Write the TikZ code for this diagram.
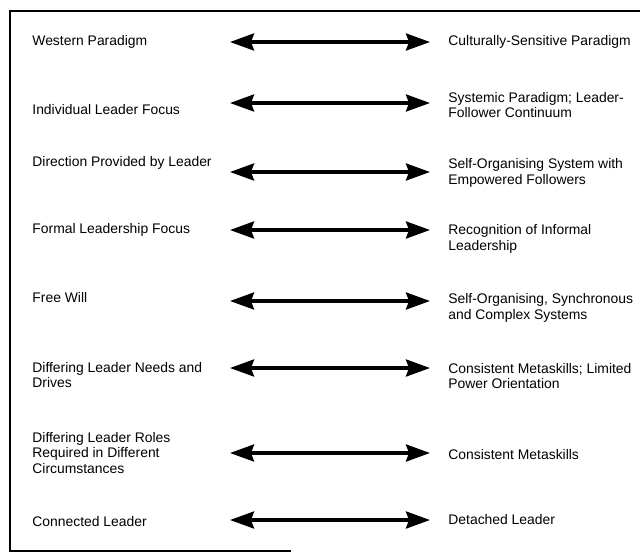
\documentclass[tikz,border=0pt]{standalone}
\usepackage{fontspec}
\setmainfont{Liberation Sans}
\usepackage{tikz}
\usetikzlibrary{arrows.meta}

\begin{document}
\begin{tikzpicture}[
	x=1pt, y=-1pt,
	thick,
	font=\fontsize{13.9}{15.5}\selectfont
]
\tikzset{
    itemnode/.style = {anchor=west, align=left, inner sep=0pt},
    pairlink/.style = {line width=3.2pt, {Stealth[length=24pt,width=17pt,inset=3pt]}-{Stealth[length=24pt,width=17pt,inset=3pt]}},
    frameline/.style = {line width=1.4pt, line cap=rect},
}
\useasboundingbox (0,0) rectangle (640,558);
% frame (open on the right)
\draw[frameline] (290,551) -- (10,551) -- (10,11) -- (640,11);

% left column
\node[itemnode] (west)   at (32,42)  {Western Paradigm};
\node[itemnode] (indiv)  at (32,110) {Individual Leader Focus};
\node[itemnode] (direct) at (32,163) {Direction Provided by Leader};
\node[itemnode] (formal) at (32,230) {Formal Leadership Focus};
\node[itemnode] (free)   at (32,298) {Free Will};
\node[itemnode] (needs)  at (32,375) {Differing Leader Needs and\\Drives};
\node[itemnode] (roles)  at (32,453) {Differing Leader Roles\\Required in Different\\Circumstances};
\node[itemnode] (conn)   at (32,522) {Connected Leader};

% right column
\node[itemnode] (cult)   at (448,42)  {Culturally-Sensitive Paradigm};
\node[itemnode] (syst)   at (448,105) {Systemic Paradigm; Leader-\\Follower Continuum};
\node[itemnode] (selfo)  at (448,173) {Self-Organising System with\\Empowered Followers};
\node[itemnode] (recog)  at (448,239) {Recognition of Informal\\Leadership};
\node[itemnode] (synch)  at (448,308) {Self-Organising, Synchronous\\and Complex Systems};
\node[itemnode] (meta)   at (448,376) {Consistent Metaskills; Limited\\Power Orientation};
\node[itemnode] (cons)   at (448,455) {Consistent Metaskills};
\node[itemnode] (detach) at (448,520) {Detached Leader};

% arrow ends
\coordinate (l1) at (230,42);  \coordinate (r1) at (430,42);
\coordinate (l2) at (230,103); \coordinate (r2) at (430,103);
\coordinate (l3) at (230,172); \coordinate (r3) at (430,172);
\coordinate (l4) at (230,230); \coordinate (r4) at (430,230);
\coordinate (l5) at (230,301); \coordinate (r5) at (430,301);
\coordinate (l6) at (230,368); \coordinate (r6) at (430,368);
\coordinate (l7) at (230,453); \coordinate (r7) at (430,453);
\coordinate (l8) at (230,520); \coordinate (r8) at (430,520);

\draw[pairlink] (l1) -- (r1);
\draw[pairlink] (l2) -- (r2);
\draw[pairlink] (l3) -- (r3);
\draw[pairlink] (l4) -- (r4);
\draw[pairlink] (l5) -- (r5);
\draw[pairlink] (l6) -- (r6);
\draw[pairlink] (l7) -- (r7);
\draw[pairlink] (l8) -- (r8);
\end{tikzpicture}
\end{document}
